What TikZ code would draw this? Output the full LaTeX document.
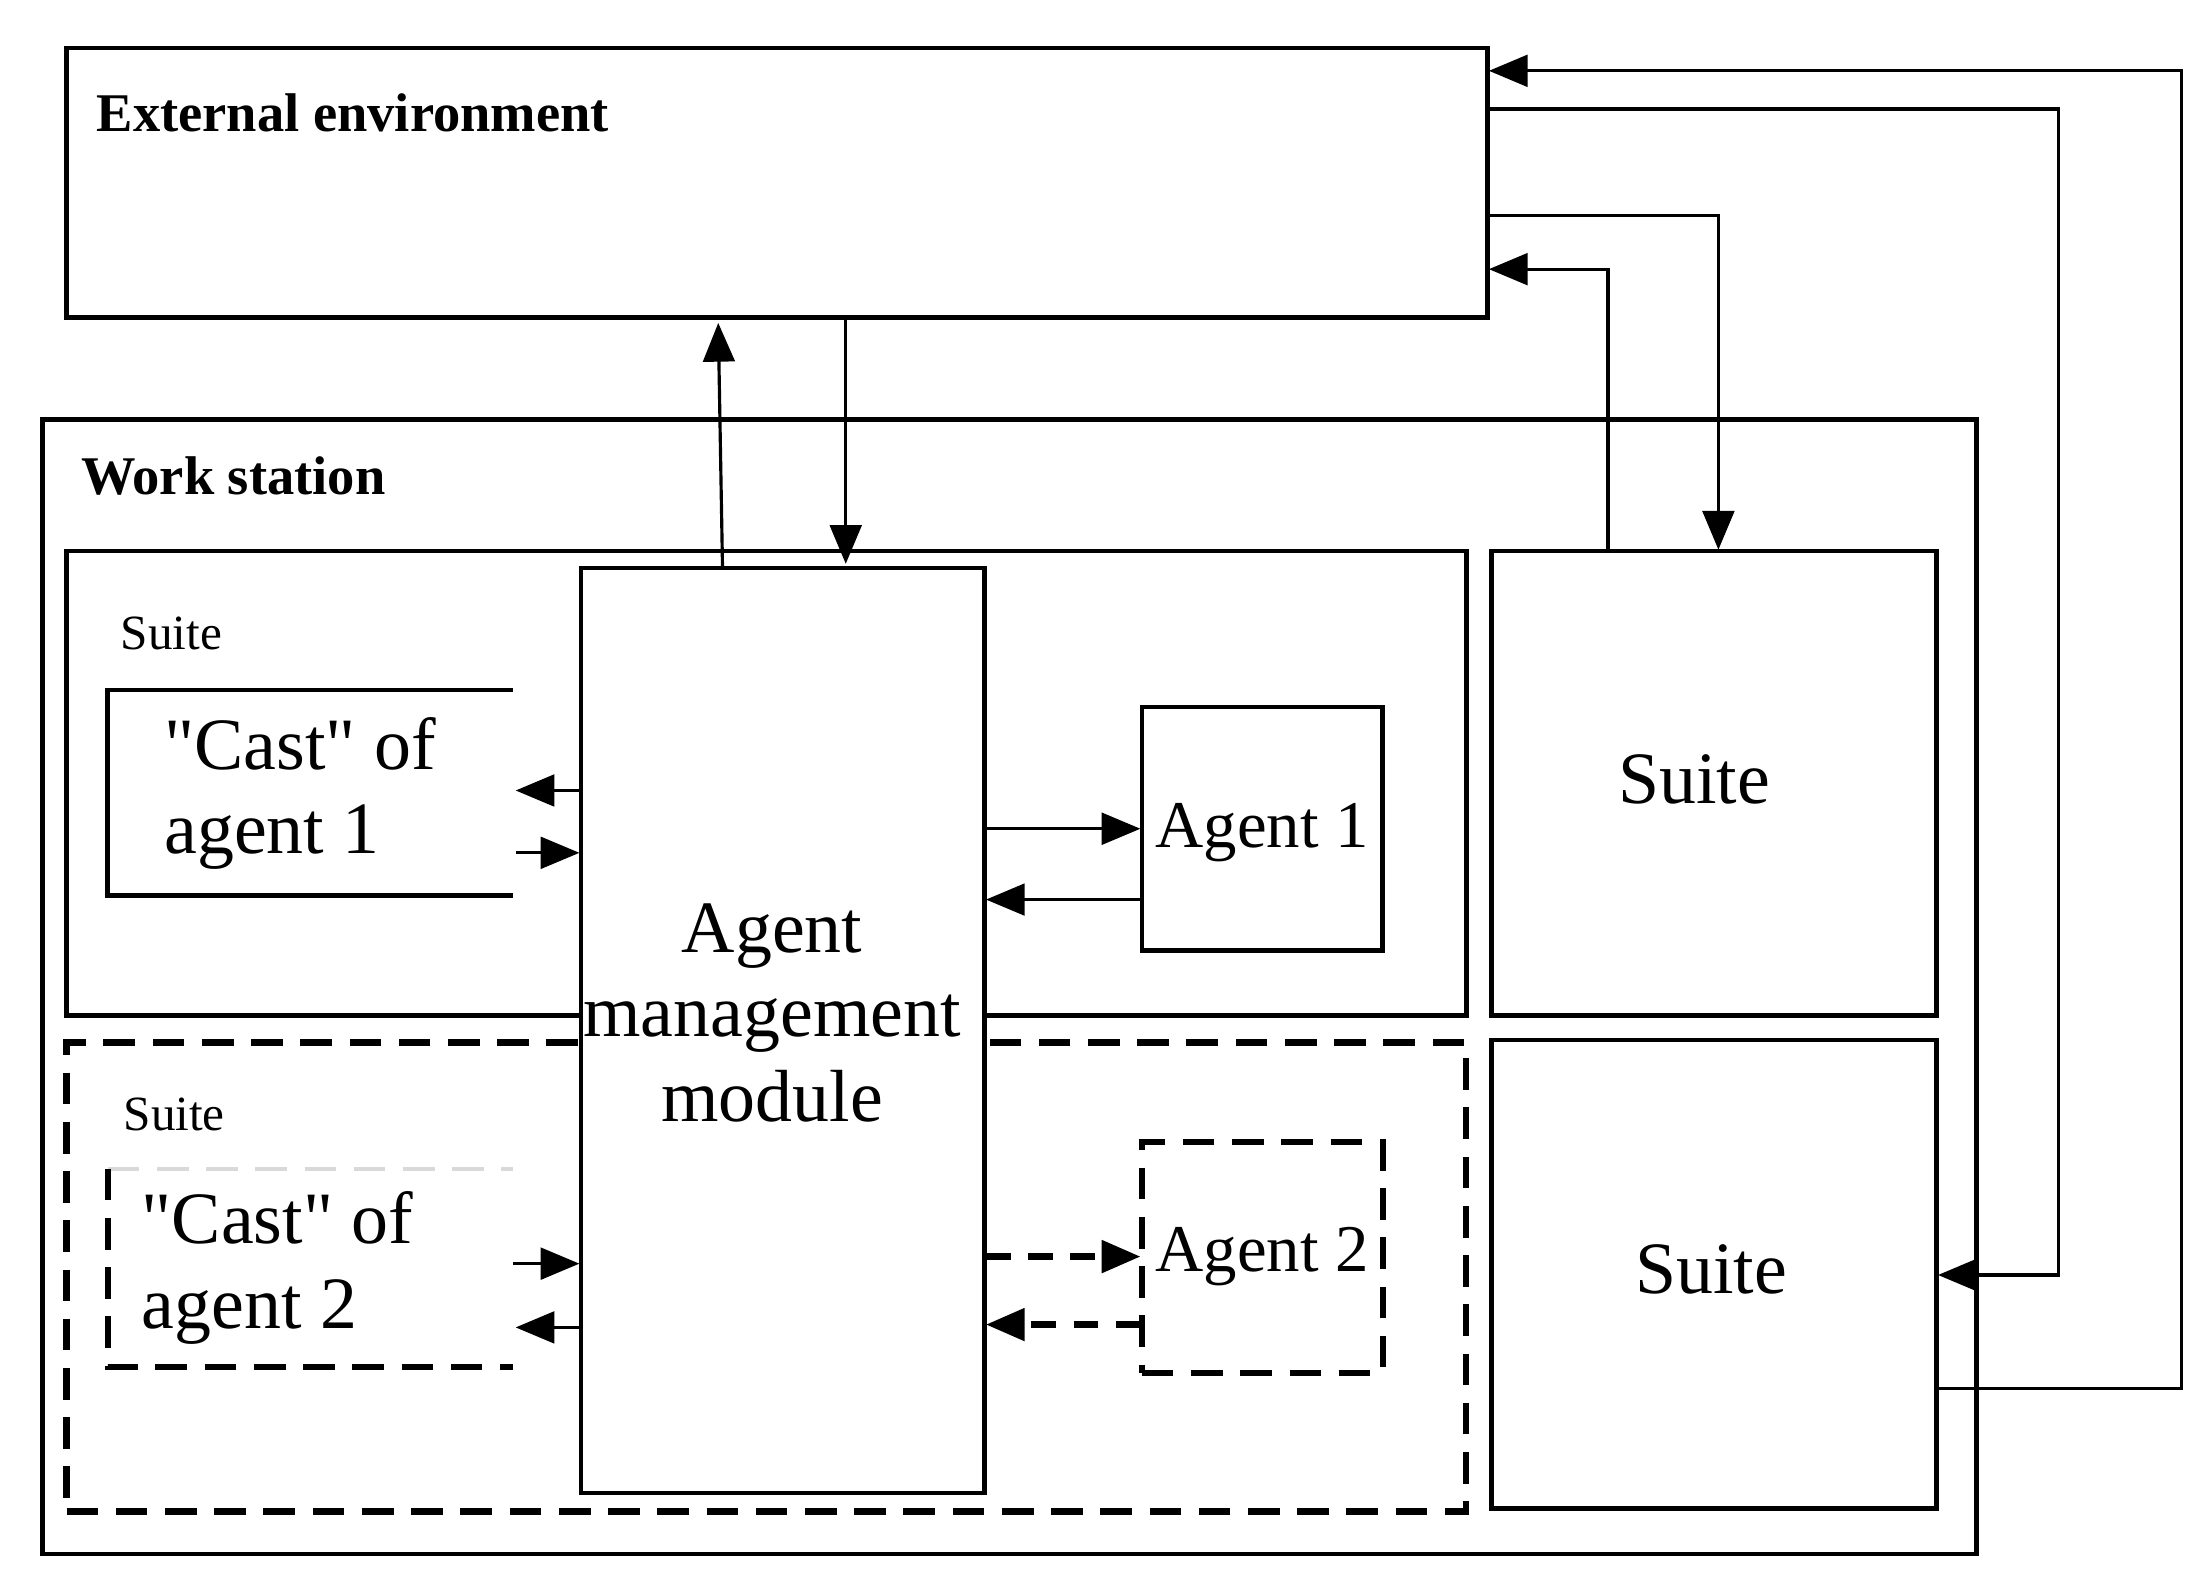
\documentclass[tikz,border=0pt]{standalone}
\usepackage{fontspec}
\setmainfont{Liberation Serif}
\usetikzlibrary{arrows.meta}
\begin{document}
\begin{tikzpicture}[x=0.014167cm,y=-0.014167cm,
  every node/.style={outer sep=0pt},
  box/.style={draw,line width=1.3pt,inner sep=0pt,anchor=north west},
  dbox/.style={box,line width=1.8pt,dash pattern=on 9pt off 5pt},
  arr/.style={line width=0.9pt,-{Triangle[length=11pt,width=9pt]}},
  darr/.style={arr,line width=1.8pt,dash pattern=on 7pt off 5pt},
  big/.style={font=\fontsize{21}{24}\selectfont},
  mid/.style={font=\fontsize{19}{22}\selectfont},
  small/.style={font=\fontsize{14}{16}\selectfont}]
\useasboundingbox (0,0) rectangle (1560,1112);
\node[box,minimum width=1003*0.014167cm,minimum height=190*0.014167cm] (ext) at (47,34) {};
\node[anchor=west,font=\bfseries\fontsize{15.5}{18}\selectfont] (extl) at (60,80) {External environment};
\node[box,minimum width=1365*0.014167cm,minimum height=801*0.014167cm] (ws) at (30,296) {};
\node[anchor=west,font=\bfseries\fontsize{15.5}{18}\selectfont] (wsl) at (49,336) {Work station};
\node[box,minimum width=988*0.014167cm,minimum height=328*0.014167cm] (s1) at (47,389) {};
\node[small,anchor=west] (s1l) at (77,447) {Suite};
\node[dbox,minimum width=988*0.014167cm,minimum height=331*0.014167cm] (s2) at (47,736) {};
\node[small,anchor=west] (s2l) at (79,787) {Suite};
\draw[line width=1.3pt] (362,487) -- (76,487) -- (76,632) -- (362,632);
\node[big,align=left,anchor=west,inner sep=0] (c1) at (116,560) {\textquotedbl Cast\textquotedbl{} of\\agent 1};
\draw[line width=1pt,gray!30,dash pattern=on 9pt off 5pt] (76,825) -- (362,825);
\draw[line width=1.8pt,dash pattern=on 9pt off 5pt] (76,825) -- (76,965) -- (362,965);
\node[big,align=left,anchor=west,inner sep=0] (c2) at (100,895) {\textquotedbl Cast\textquotedbl{} of\\agent 2};
\node[box,fill=white,minimum width=285*0.014167cm,minimum height=653*0.014167cm] (amm) at (410,401) {};
\node[big,align=center] (amml) at (545,715) {Agent\\management\\module};
\node[box,minimum width=170*0.014167cm,minimum height=172*0.014167cm] (a1) at (806,499) {};
\node[mid] (a1l) at (891,588) {Agent 1};
\node[dbox,minimum width=170*0.014167cm,minimum height=163*0.014167cm] (a2) at (806,806) {};
\node[mid] (a2l) at (891,887) {Agent 2};
\node[box,minimum width=314*0.014167cm,minimum height=328*0.014167cm] (r1) at (1053,389) {};
\node[big] (r1l) at (1196,550) {Suite};
\node[box,minimum width=314*0.014167cm,minimum height=331*0.014167cm] (r2) at (1053,734) {};
\node[big] (r2l) at (1208,896) {Suite};
% arrows
\coordinate (p1) at (510,400); \coordinate (p2) at (507,228);
\draw[arr] (p1) -- (p2);
\coordinate (p3) at (597,225); \coordinate (p4) at (597,398);
\draw[arr] (p3) -- (p4);
\draw[arr] (409,558) -- (364,558);
\draw[arr] (364,602) -- (409,602);
\draw[arr] (696,585) -- (805,585);
\draw[arr] (805,635) -- (696,635);
\draw[arr] (362,892) -- (409,892);
\draw[arr] (409,937) -- (364,937);
\draw[darr] (696,887) -- (805,887);
\draw[darr] (805,935) -- (696,935);
\draw[arr] (1135,388) -- (1135,190) -- (1051,190);
\draw[arr] (1051,152) -- (1213,152) -- (1213,388);
\draw[arr] (1051,77) -- (1453,77) -- (1453,900) -- (1368,900);
\draw[arr] (1368,980) -- (1540,980) -- (1540,50) -- (1051,50);
\end{tikzpicture}
\end{document}
